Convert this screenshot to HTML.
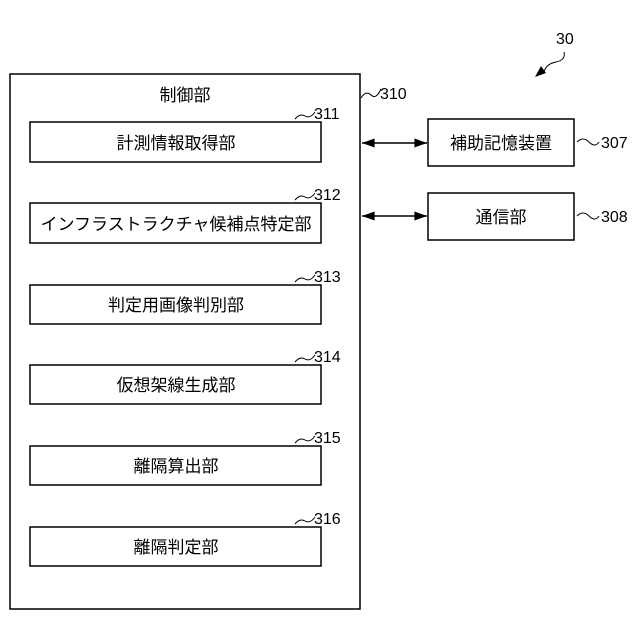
<html><body style="margin:0;background:#fff">
<svg width="640" height="640" xmlns="http://www.w3.org/2000/svg" style="font-family:'Liberation Sans','Noto Sans CJK JP',sans-serif">
<defs><marker id="a" viewBox="0 0 14 10" refX="14" refY="5" markerWidth="14" markerHeight="9" orient="auto-start-reverse" markerUnits="userSpaceOnUse"><path d="M0,0L14,5L0,10z" fill="#000"/></marker></defs>
<g fill="none" stroke="#000" stroke-width="1.5">
<rect x="10" y="74" width="350" height="535"/>
<rect x="30" y="122" width="291" height="40"/>
<rect x="30" y="203" width="291" height="40"/>
<rect x="30" y="285" width="291" height="39"/>
<rect x="30" y="365" width="291" height="39"/>
<rect x="30" y="446" width="291" height="39"/>
<rect x="30" y="527" width="291" height="39"/>
<rect x="428" y="119" width="146" height="47"/>
<rect x="428" y="193" width="146" height="47"/>
<line x1="362" y1="143" x2="427" y2="143" marker-start="url(#a)" marker-end="url(#a)"/>
<line x1="362" y1="216" x2="427" y2="216" marker-start="url(#a)" marker-end="url(#a)"/>
</g>
<g fill="none" stroke="#000" stroke-width="1">
<path d="M361,98 q5,-8 10,-3 t10,-6"/>
<path d="M295,119 q5,-6 10,-3 t10,-4"/>
<path d="M295,200 q5,-6 10,-3 t10,-4"/>
<path d="M295,282 q5,-6 10,-3 t10,-4"/>
<path d="M295,362 q5,-6 10,-3 t10,-4"/>
<path d="M295,443 q5,-6 10,-3 t10,-4"/>
<path d="M295,524 q5,-6 10,-3 t10,-4"/>
<path d="M577,142 q6,-6 12,0 t10,0"/>
<path d="M577,216 q6,-6 12,0 t10,0"/>
<path d="M564,52 q2,8 -8,10 t-12,10"/>
</g>
<path d="M535,77 l11,-4 l-5,-7z" fill="#000"/>
<g font-size="17" fill="#000" text-anchor="middle">
<text x="185" y="101">制御部</text>
<text x="176" y="149">計測情報取得部</text>
<text x="176" y="230">インフラストラクチャ候補点特定部</text>
<text x="176" y="311">判定用画像判別部</text>
<text x="176" y="391">仮想架線生成部</text>
<text x="176" y="472">離隔算出部</text>
<text x="176" y="553">離隔判定部</text>
<text x="501" y="149">補助記憶装置</text>
<text x="501" y="223">通信部</text>
</g>
<g font-size="16" fill="#000">
<text x="380" y="99">310</text>
<text x="314" y="119">311</text>
<text x="314" y="200">312</text>
<text x="314" y="282">313</text>
<text x="314" y="362">314</text>
<text x="314" y="443">315</text>
<text x="314" y="524">316</text>
<text x="601" y="148">307</text>
<text x="601" y="222">308</text>
<text x="556" y="44">30</text>
</g>
</svg>
</body></html>
